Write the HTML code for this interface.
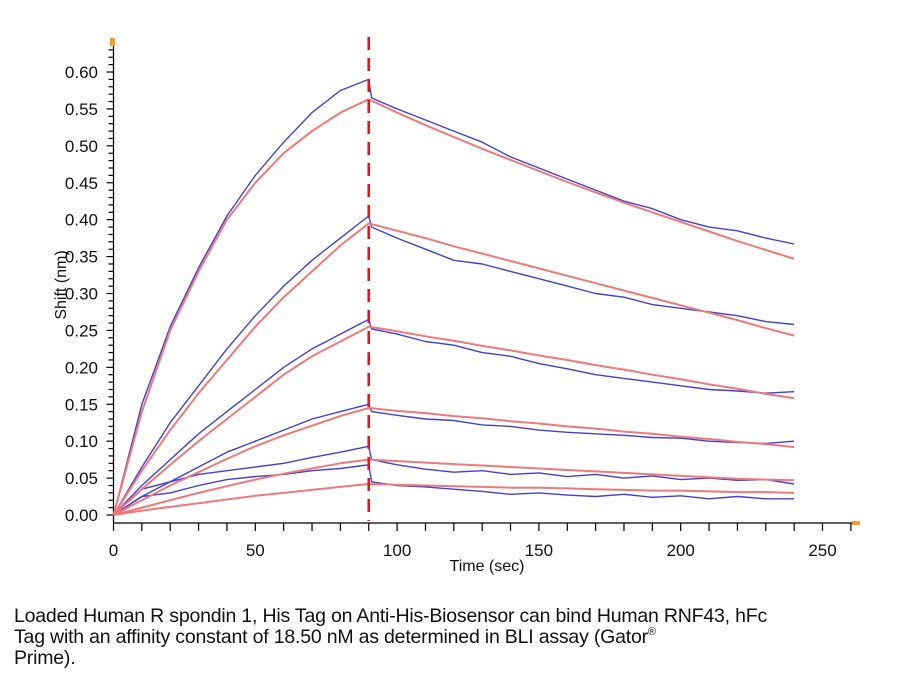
<!DOCTYPE html>
<html><head><meta charset="utf-8"><style>
body{margin:0;background:#fff;width:900px;height:686px;overflow:hidden;font-family:"Liberation Sans",Arial,sans-serif}
#cap{position:absolute;left:14px;top:606px;font-size:19.5px;line-height:21px;color:#111;letter-spacing:-0.2px;white-space:nowrap}
#cap sup{font-size:11px;line-height:0;vertical-align:8px}
</style></head><body>
<svg id="chart" width="900" height="600" style="position:absolute;left:0;top:0"></svg>
<div id="cap">Loaded Human R spondin 1, His Tag on Anti-His-Biosensor can bind Human RNF43, hFc<br>Tag with an affinity constant of 18.50 nM as determined in BLI assay (Gator<sup>®</sup><br>Prime).</div>
<script>
const fitTimes=[0,10,20,30,40,50,60,70,80,90,100,110,120,130,140,150,160,170,180,190,200,210,220,230,240];
const fit1=[0,0.14,0.25,0.33,0.40,0.45,0.49,0.52,0.545,0.563,0.545,0.528,0.512,0.496,0.481,0.466,0.451,0.437,0.423,0.410,0.397,0.384,0.371,0.359,0.347];
const fit2=[0,0.06,0.115,0.165,0.21,0.255,0.295,0.33,0.365,0.395,0.385,0.375,0.364,0.354,0.344,0.334,0.324,0.314,0.304,0.294,0.284,0.274,0.264,0.253,0.243];
const fit3=[0,0.035,0.068,0.10,0.13,0.16,0.19,0.215,0.235,0.255,0.249,0.242,0.236,0.229,0.223,0.216,0.210,0.203,0.197,0.190,0.184,0.177,0.171,0.164,0.158];
const fit4=[0,0.02,0.04,0.058,0.076,0.093,0.108,0.121,0.134,0.145,0.141,0.138,0.134,0.131,0.127,0.124,0.120,0.117,0.113,0.110,0.106,0.103,0.099,0.096,0.092];
const fit5=[0,0.01,0.02,0.03,0.039,0.048,0.056,0.063,0.07,0.075,0.073,0.071,0.069,0.067,0.065,0.063,0.061,0.059,0.057,0.055,0.053,0.051,0.049,0.048,0.047];
const fit6=[0,0.006,0.011,0.016,0.021,0.026,0.030,0.034,0.038,0.042,0.041,0.040,0.039,0.038,0.037,0.037,0.036,0.035,0.034,0.033,0.033,0.032,0.031,0.031,0.030];
const dataTimes=[0,10,20,30,40,50,60,70,80,90,91,100,110,120,130,140,150,160,170,180,190,200,210,220,230,240];
const data1=[0,0.15,0.255,0.335,0.405,0.46,0.505,0.545,0.575,0.59,0.565,0.55,0.535,0.52,0.505,0.485,0.47,0.455,0.44,0.425,0.415,0.40,0.39,0.385,0.375,0.367];
const data2=[0,0.065,0.125,0.175,0.225,0.27,0.31,0.345,0.375,0.405,0.39,0.375,0.36,0.345,0.34,0.33,0.32,0.31,0.30,0.295,0.285,0.28,0.275,0.27,0.262,0.258];
const data3=[0,0.04,0.075,0.11,0.14,0.17,0.2,0.225,0.245,0.265,0.252,0.245,0.235,0.23,0.22,0.215,0.205,0.198,0.19,0.185,0.18,0.175,0.17,0.168,0.165,0.167];
const data4=[0,0.025,0.045,0.065,0.085,0.10,0.115,0.13,0.14,0.15,0.14,0.135,0.13,0.128,0.122,0.12,0.115,0.112,0.11,0.108,0.105,0.104,0.10,0.098,0.097,0.10];
const data5=[0,0.035,0.045,0.055,0.06,0.065,0.07,0.078,0.085,0.093,0.075,0.068,0.062,0.058,0.06,0.055,0.057,0.052,0.055,0.05,0.053,0.048,0.05,0.047,0.048,0.042];
const data6=[0,0.025,0.03,0.04,0.048,0.052,0.055,0.06,0.063,0.068,0.045,0.04,0.038,0.035,0.032,0.028,0.03,0.027,0.025,0.028,0.024,0.026,0.022,0.025,0.022,0.022];
const xTickLabels=[0,50,100,150,200,250];
const yTickLabels=["0.00","0.05","0.10","0.15","0.20","0.25","0.30","0.35","0.40","0.45","0.50","0.55","0.60"];
const injectTime=90;

const svg=document.getElementById('chart');
const NS='http://www.w3.org/2000/svg';
const X=t=>113.5+t*2.836;
const Y=v=>515-v*738.3;
function mk(tag,attrs,parent){const e=document.createElementNS(NS,tag);for(const k in attrs)e.setAttribute(k,attrs[k]);(parent||svg).appendChild(e);return e;}

let e=mk('line',{x1:113.5,y1:42,x2:113.5,y2:523,stroke:'#000','stroke-width':1.3});


e=mk('line',{x1:113.5,y1:523,x2:852,y2:523,stroke:'#000','stroke-width':1.3});


for(let i=0;i<=63;i++){const y=Y(i/100);const maj=i%5===0;
 e=mk('line',{x1:113.5-(maj?7:5),y1:y,x2:113.5,y2:y,stroke:'#000','stroke-width':1.2});
 
 }
yTickLabels.forEach(l=>{e=mk('text',{x:98,y:Y(+l)+6,'text-anchor':'end','font-size':17,fill:'#111'});e.textContent=l;
 
 });
for(let t=0;t<=260;t+=10){e=mk('line',{x1:X(t),y1:523,x2:X(t),y2:531,stroke:'#000','stroke-width':1.2});
 
 }
xTickLabels.forEach(l=>{e=mk('text',{x:X(l),y:556,'text-anchor':'middle','font-size':17,fill:'#111'});e.textContent=l;
 
 });
e=mk('text',{x:487,y:571,'text-anchor':'middle','font-size':16,fill:'#111'});e.textContent='Time (sec)';


e=mk('text',{x:0,y:0,'text-anchor':'middle','font-size':16,fill:'#111',transform:'translate(66,285) rotate(-90)'});e.textContent='Shift (nm)';


e=mk('rect',{x:110,y:38,width:5,height:8,fill:'#f0a030'});


e=mk('rect',{x:852,y:521,width:8,height:4,fill:'#f0a030'});



function path(times,vals,color,w,name){
 const d=vals.map((v,i)=>(i?'L':'M')+X(times[i]).toFixed(1)+' '+Y(v).toFixed(1)).join(' ');
 const p=mk('path',{d:d,fill:'none',stroke:color,'stroke-width':w,'stroke-linejoin':'round'});
 
 
}
[data1,data2,data3,data4,data5,data6].forEach((s,i)=>path(dataTimes,s,'#4040d8',1.4,'data-curve-'+(i+1)));
[fit1,fit2,fit3,fit4,fit5,fit6].forEach((s,i)=>path(fitTimes,s,'#f07878',2,'fit-curve-'+(i+1)));
e=mk('line',{x1:X(injectTime),y1:37,x2:X(injectTime),y2:521,stroke:'#e01818','stroke-width':2.6,'stroke-dasharray':'13 8'});


</script>
</body></html>
